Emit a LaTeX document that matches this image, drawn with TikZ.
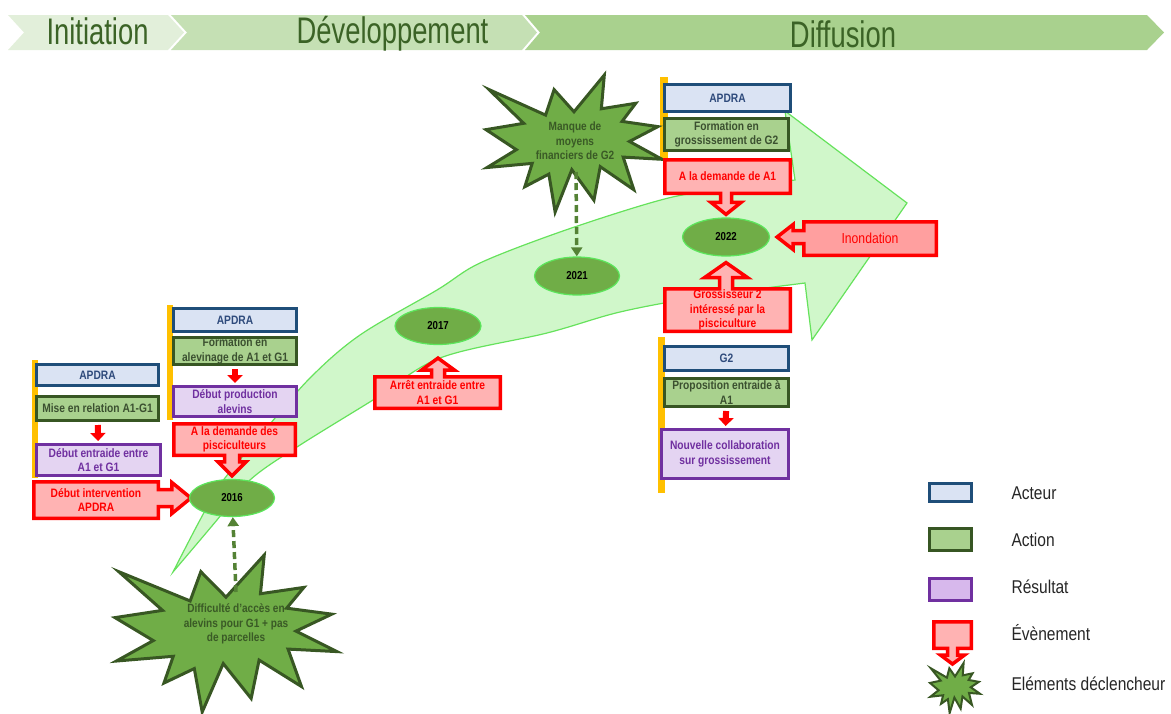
\documentclass[tikz,border=0pt]{standalone}
\usepackage{fontspec}
\setmainfont{Liberation Sans}
\newfontfamily\hdfont[FakeStretch=0.74]{Liberation Sans}
\newfontfamily\smfont[FakeStretch=0.84]{Liberation Sans}
\usetikzlibrary{shapes.geometric,arrows.meta,calc}
\pgfdeclarelayer{bg}
\pgfdeclarelayer{mid}
\pgfsetlayers{bg,mid,main}

\definecolor{hdA}{HTML}{E2EFDA}
\definecolor{hdB}{HTML}{C5E0B4}
\definecolor{hdC}{HTML}{A9D18E}
\definecolor{hdtext}{HTML}{3B6326}
\definecolor{arrfill}{HTML}{D0F7CA}
\definecolor{arrline}{HTML}{66E25C}
\definecolor{actfill}{HTML}{DAE3F3}
\definecolor{actline}{HTML}{1F4E79}
\definecolor{acttext}{HTML}{2F4B7C}
\definecolor{acnfill}{HTML}{A9D18E}
\definecolor{acnline}{HTML}{375623}
\definecolor{acntext}{HTML}{3B5030}
\definecolor{resfill}{HTML}{E4D4F2}
\definecolor{reslgfill}{HTML}{D7B8EC}
\definecolor{resline}{HTML}{7030A0}
\definecolor{restext}{HTML}{7030A0}
\definecolor{evfill}{HTML}{FFB3B3}
\definecolor{evfilldk}{HTML}{FF9F9F}
\definecolor{yrfill}{HTML}{70AD47}
\definecolor{yrline}{HTML}{5CE65C}
\definecolor{starfill}{HTML}{70AD47}
\definecolor{starline}{HTML}{385723}
\definecolor{startxt}{HTML}{3A5A26}
\definecolor{dashcol}{HTML}{548235}
\definecolor{barcol}{HTML}{FFC000}
\definecolor{lgtextcol}{HTML}{262626}

% callout outlines: box node, tip point, shaft half-width, head half-width, head length
\newcommand\calldown[5]{%
  \path[evshape] let \p1=(#1.north west), \p2=(#1.south east), \p3=(#2) in
    (\x1,\y2) -- (\x1,\y1) -- (\x2,\y1) -- (\x2,\y2) -- (\x3+#3pt,\y2) -- (\x3+#3pt,\y3+#5pt)
    -- (\x3+#4pt,\y3+#5pt) -- (\x3,\y3) -- (\x3-#4pt,\y3+#5pt) -- (\x3-#3pt,\y3+#5pt)
    -- (\x3-#3pt,\y2) -- cycle;}
\newcommand\callup[5]{%
  \path[evshape] let \p1=(#1.north west), \p2=(#1.south east), \p3=(#2) in
    (\x1,\y1) -- (\x1,\y2) -- (\x2,\y2) -- (\x2,\y1) -- (\x3+#3pt,\y1) -- (\x3+#3pt,\y3-#5pt)
    -- (\x3+#4pt,\y3-#5pt) -- (\x3,\y3) -- (\x3-#4pt,\y3-#5pt) -- (\x3-#3pt,\y3-#5pt)
    -- (\x3-#3pt,\y1) -- cycle;}
\newcommand\callright[5]{%
  \path[evshape] let \p1=(#1.north west), \p2=(#1.south east), \p3=(#2) in
    (\x2,\y3+#3pt) -- (\x2,\y1) -- (\x1,\y1) -- (\x1,\y2) -- (\x2,\y2) -- (\x2,\y3-#3pt)
    -- (\x3-#5pt,\y3-#3pt) -- (\x3-#5pt,\y3-#4pt) -- (\x3,\y3) -- (\x3-#5pt,\y3+#4pt)
    -- (\x3-#5pt,\y3+#3pt) -- cycle;}
\newcommand\callleft[6][]{%
  \path[evshape,#1] let \p1=(#2.north west), \p2=(#2.south east), \p3=(#3) in
    (\x1,\y3+#4pt) -- (\x1,\y1) -- (\x2,\y1) -- (\x2,\y2) -- (\x1,\y2) -- (\x1,\y3-#4pt)
    -- (\x3+#6pt,\y3-#4pt) -- (\x3+#6pt,\y3-#5pt) -- (\x3,\y3) -- (\x3+#6pt,\y3+#5pt)
    -- (\x3+#6pt,\y3+#4pt) -- cycle;}
% twelve-point explosion outline in a 100 x 100 frame: left, top, width, height
\newcommand\seal[5][]{%
  \draw[starshape,#1,shift={(#2,#3)},xscale=#4/100,yscale=#5/100]
    (50,26.85) -- (67.23,0) -- (65.53,24.65) -- (85.09,20.63) -- (77.32,33.87)
    -- (97.67,37.67) -- (81.51,48.50) -- (100,61.53) -- (77.95,59.92) -- (84.00,83.77)
    -- (64.91,66.93) -- (61.33,91.38) -- (48.76,69.14) -- (39.28,100) -- (35.72,72.35)
    -- (22.05,81.56) -- (26.24,64.52) -- (0.63,67.53) -- (17.23,54.51) -- (0,39.88)
    -- (21.42,35.26) -- (1.71,10.63) -- (33.85,29.26) -- (38.67,10.63) -- cycle;}

\begin{document}
\begin{tikzpicture}[x=1pt,y=-1pt,
  hd/.style={font=\hdfont\fontsize{37}{40}\selectfont, text=hdtext, anchor=base},
  sz/.style 2 args={minimum width=#1pt, minimum height=#2pt},
  box/.style={rectangle, inner sep=1pt, align=center, line width=3pt,
    font=\smfont\bfseries\fontsize{12.2}{14.5}\selectfont},
  acteur/.style={box, fill=actfill, draw=actline, text=acttext},
  action/.style={box, fill=acnfill, draw=acnline, text=acntext},
  result/.style={box, fill=resfill, draw=resline, text=restext},
  event/.style={box, text=red, outer sep=0pt},
  evshape/.style={fill=evfill, draw=red, line width=3.5pt, line join=miter},
  year/.style={ellipse, fill=yrfill, draw=yrline, line width=1.2pt, inner sep=0pt,
    font=\smfont\bfseries\fontsize{11.5}{13}\selectfont, text=black},
  startext/.style={align=center, text=startxt, inner sep=0pt,
    font=\smfont\bfseries\fontsize{12}{14.5}\selectfont},
  starshape/.style={fill=starfill, draw=starline, line width=3pt, line join=miter},
  redarr/.style={draw=red, line width=6pt, -{Triangle[width=15pt,length=8pt]},
    shorten <=3pt, shorten >=2pt},
  dasharr/.style={draw=dashcol, line width=3.5pt, dash pattern=on 7pt off 4pt,
    -{Triangle[width=11pt,length=9pt]}},
  lgtext/.style={anchor=west, font=\smfont\fontsize{18.5}{20}\selectfont, text=lgtextcol},
]
\useasboundingbox (0,0) rectangle (1171,713);

% ---------- phase header ----------
\begin{pgfonlayer}{bg}
\fill[hdA] (8,15) -- (168,15) -- (184,32.5) -- (168,50) -- (8,50) -- (24,32.5) -- cycle;
\fill[hdB] (171,15) -- (522,15) -- (537,32.5) -- (522,50) -- (171,50) -- (187,32.5) -- cycle;
\fill[hdC] (525,15) -- (1147,15) -- (1164,32.5) -- (1147,50) -- (525,50) -- (540,32.5) -- cycle;

% ---------- large curved progression arrow ----------
\filldraw[fill=arrfill, draw=arrline, line width=1.2pt, line join=miter]
  plot[smooth, tension=0.55] coordinates {(173,572) (200,520) (222,482) (265,430)
    (310,378) (360,335) (437,290) (480,263) (560,232) (650,203) (700,192) (795,180)}
  -- (785,111) -- (907,203) -- (812,340) -- (805,283)
  -- plot[smooth, tension=0.55] coordinates {(805,283) (700,297) (620,312) (547,333)
    (440,358) (373,400) (297,447) (250,480) (217,520) (173,572)}
  -- cycle;

% ---------- grouping bars ----------
\fill[barcol] (32,360) rectangle (38,478);
\fill[barcol] (167,305) rectangle (173,420);
\fill[barcol] (660,77) rectangle (668,160);
\fill[barcol] (658,337) rectangle (665,493);
\end{pgfonlayer}

\node[hd] (h1) at (97.5,44) {Initiation};
\node[hd] (h2) at (392.5,43) {Développement};
\node[hd] (h3) at (843,47) {Diffusion};

% ---------- trigger explosions ----------
\begin{pgfonlayer}{mid}
\seal{115}{555}{222}{157}
\seal{486}{75}{176}{137}
\seal[line width=2pt]{930}{663}{50}{50}
\end{pgfonlayer}
\node[startext] (s1) at (236,624) {Difficulté d’accès en\\alevins pour G1 + pas\\de parcelles};
\node[startext] (s2) at (575,141) {Manque de\\moyens\\financiers de G2};
\coordinate (s1top) at (236,592);
\coordinate (s2bot) at (576,172);

% ---------- years ----------
\node[year, sz={85}{37}] (y16) at (232,498) {2016};
\node[year, sz={86}{37}] (y17) at (438,326) {2017};
\node[year, sz={85}{38}] (y21) at (577,276) {2021};
\node[year, sz={87}{38}] (y22) at (726,237) {2022};

% ---------- initiation ----------
\node[acteur, sz={122}{21}] (a1) at (97.5,375) {APDRA};
\node[action, sz={122}{24}] (c1) at (97.5,408.5) {Mise en relation A1-G1};
\node[result, sz={124}{31}] (r1) at (98.5,460) {Début entraide entre\\A1 et G1};
\node[event, sz={124.5}{36.5}] (e1) at (96,500) {Début intervention\\APDRA};
\draw[redarr] (c1) -- (r1);

% ---------- development ----------
\node[acteur, sz={123}{23}] (a2) at (235,320) {APDRA};
\node[action, sz={123}{25}] (c2) at (235,351) {Formation en\\alevinage de A1 et G1};
\node[result, sz={123}{30}] (r2) at (235,401.5) {Début production\\alevins};
\node[event, sz={121.5}{31.5}] (e2) at (234.5,439.5) {A la demande des\\pisciculteurs};
\draw[redarr] (c2) -- (r2);

\node[event, sz={125.5}{31.5}] (e3) at (437.5,392.5) {Arrêt entraide entre\\A1 et G1};

% ---------- diffusion ----------
\node[acteur, sz={126}{27}] (a3) at (727.5,98) {APDRA};
\node[action, sz={124}{32}] (c3) at (726.5,134.5) {Formation en\\grossissement de G2};
\node[event, sz={125.5}{33.5}] (e4) at (727.5,176.5) {A la demande de A1};
\node[event, sz={132.5}{33.5}, font=\smfont\fontsize{14.5}{16}\selectfont] (e5) at (870,238.5) {Inondation};
\node[event, sz={125.5}{42.5}] (e6) at (727.5,310) {Grossisseur 2\\intéressé par la\\pisciculture};

\node[acteur, sz={124}{24}] (a4) at (726.5,358.5) {G2};
\node[action, sz={124}{28}] (c4) at (726.5,392.5) {Proposition entraide à\\A1};
\node[result, sz={127}{49}] (r4) at (725,454) {Nouvelle collaboration\\sur grossissement};
\draw[redarr] (c4) -- (r4);

% ---------- legend ----------
\node[acteur, sz={42}{18}] (l1) at (950.5,492.5) {};
\node[action, sz={42}{22}] (l2) at (950.5,539.5) {};
\node[result, sz={42}{22}, fill=reslgfill] (l3) at (950.5,589.5) {};
\node[event, sz={37.5}{26.5}] (l4) at (952.5,635) {};
\coordinate (l4tip) at (952.5,664);
\node[lgtext] (t1) at (1008,493) {Acteur};
\node[lgtext] (t2) at (1008,540) {Action};
\node[lgtext] (t3) at (1008,587) {Résultat};
\node[lgtext] (t4) at (1008,633) {Évènement};
\node[lgtext] (t5) at (1008,684) {Eléments déclencheur};

% ---------- event callouts ----------
\begin{pgfonlayer}{mid}
\callright{e1}{$(y16.west)+(2,0)$}{8.5}{15.5}{19}
\calldown{e2}{$(y16.north)+(0,-3)$}{7.5}{14}{14}
\callup{e3}{$(y17.south)+(0,13)$}{6.5}{16.5}{12}
\calldown{e4}{$(y22.north)+(0,-3)$}{5.5}{15}{12}
\callleft[fill=evfilldk]{e5}{$(y22.east)+(7,0)$}{6.5}{12.5}{16}
\callup{e6}{$(y22.south)+(0,6)$}{6.5}{21.5}{15}
\calldown{l4}{l4tip}{5}{12}{9}
\end{pgfonlayer}

% ---------- trigger links ----------
\draw[dasharr] (s1top) -- (y16);
\draw[dasharr] (s2bot) -- (y21);
\end{tikzpicture}
\end{document}
